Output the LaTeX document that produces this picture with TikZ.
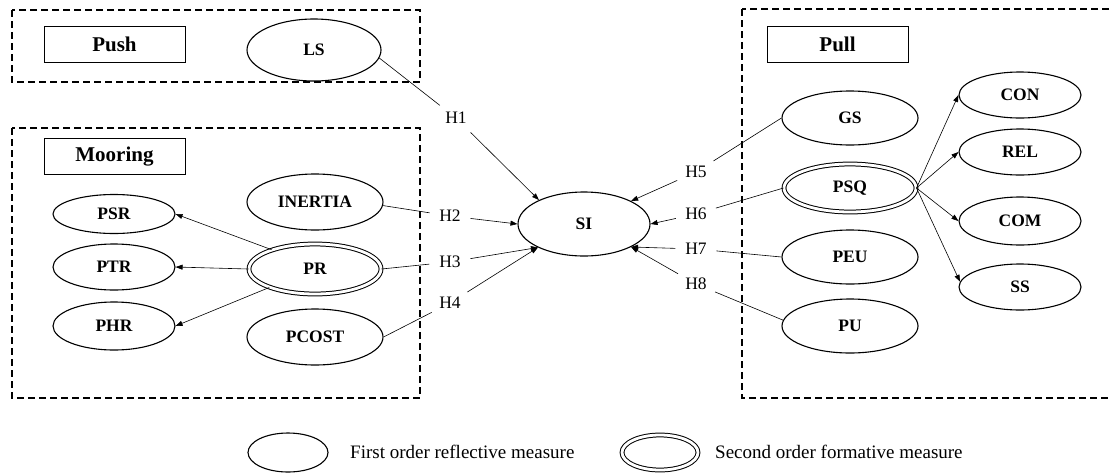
\documentclass[tikz,border=0pt]{standalone}
\usepackage{fontspec}
\setmainfont{Liberation Serif}
\usetikzlibrary{arrows.meta,shapes.geometric}
\begin{document}
\begin{tikzpicture}[x=1pt,y=-1pt,
  esize/.style 2 args={minimum width=#1pt, minimum height=#2pt},
  construct/.style={ellipse, draw, line width=1.1pt, inner sep=0pt,
    font=\fontsize{17.5}{20}\selectfont\bfseries},
  formative/.style={construct, double, double distance=2.8pt, line width=1pt},
  grouplabel/.style={rectangle, draw, line width=0.9pt, minimum width=141pt,
    minimum height=36pt, inner sep=0pt, font=\fontsize{21}{24}\selectfont\bfseries},
  groupframe/.style={draw, line width=1.7pt, dash pattern=on 7pt off 4pt},
  hyp/.style={circle, inner sep=6pt, font=\fontsize{17.5}{20}\selectfont},
  link/.style={line width=0.6pt},
  effect/.style={line width=0.6pt, -{Triangle[length=7pt,width=5pt]}},
  legendtext/.style={anchor=west, inner sep=0pt, font=\fontsize{19}{22}\selectfont}
]
\useasboundingbox (0,0) rectangle (1110,472);

% group frames
\draw[groupframe] (12,10) rectangle (420,82);
\draw[groupframe] (12,128) rectangle (420,398);
\draw[groupframe] (742,9) rectangle (1125,398);

% group labels
\node[grouplabel] (push) at (114.5,44) {Push};
\node[grouplabel] (mooring) at (114.5,156.5) {Mooring};
\node[grouplabel] (pull) at (837.5,44.5) {Pull};

% push
\node[construct, esize={134}{62}] (LS) at (314,50) {LS};

% mooring
\node[construct, esize={136}{56}] (INERTIA) at (315,202) {INERTIA};
\node[formative, esize={132}{50}] (PR) at (315,269) {PR};
\node[construct, esize={136}{56}] (PCOST) at (315,337) {PCOST};
\node[construct, esize={122}{39}] (PSR) at (114,214) {PSR};
\node[construct, esize={122}{46}] (PTR) at (114,267) {PTR};
\node[construct, esize={122}{48}] (PHR) at (114,326) {PHR};

% switching intention
\node[construct, esize={132}{64}] (SI) at (584,224) {SI};

% pull
\node[construct, esize={136}{54}] (GS) at (850,118) {GS};
\node[formative, esize={132}{48}] (PSQ) at (850,188) {PSQ};
\node[construct, esize={136}{54}] (PEU) at (850,257) {PEU};
\node[construct, esize={136}{54}] (PU) at (850,326) {PU};
\node[construct, esize={122}{46}] (CON) at (1020,95) {CON};
\node[construct, esize={122}{46}] (REL) at (1020,152) {REL};
\node[construct, esize={122}{48}] (COM) at (1020,221) {COM};
\node[construct, esize={122}{46}] (SS) at (1020,287) {SS};

% hypothesis labels
\node[hyp] (H1) at (456,118) {H1};
\node[hyp] (H2) at (450,216) {H2};
\node[hyp] (H3) at (450,262) {H3};
\node[hyp] (H4) at (450,303) {H4};
\node[hyp] (H5) at (696,172) {H5};
\node[hyp] (H6) at (696,214) {H6};
\node[hyp] (H7) at (696,249) {H7};
\node[hyp] (H8) at (696,284) {H8};

% hypothesised paths
\draw[link] (LS.-7) -- (H1);
\draw[effect] (H1) -- (SI.152);
\draw[link] (INERTIA.-3) -- (H2);
\draw[effect] (H2) -- (SI.180);
\draw[link] (PR.east) -- (H3);
\draw[effect] (H3) -- (SI.207);
\draw[link] (PCOST.east) -- (H4);
\draw[effect] (H4) -- (SI.207);
\draw[link] (GS.west) -- (H5);
\draw[effect] (H5) -- (SI.26);
\draw[link] (PSQ.west) -- (H6);
\draw[effect] (H6) -- (SI.0);
\draw[link] (PEU.west) -- (H7);
\draw[effect] (H7) -- (SI.-26);
\draw[link] (PU.175) -- (H8);
\draw[effect] (H8) -- (SI.-26);

% second order dimensions
\draw[effect] (PR.156) -- (PSR.east);
\draw[effect] (PR.west) -- (PTR.east);
\draw[effect] (PR.202) -- (PHR.east);
\draw[effect] (PSQ.east) -- (CON.west);
\draw[effect] (PSQ.east) -- (REL.west);
\draw[effect] (PSQ.east) -- (COM.west);
\draw[effect] (PSQ.east) -- (SS.175);

% legend
\node[construct, esize={80}{39}] (legfirst) at (288,452.5) {};
\node[legendtext] (legfirsttext) at (350,452) {First order reflective measure};
\node[formative, esize={76}{35}] (legsecond) at (660,452.5) {};
\node[legendtext] (legsecondtext) at (715,452) {Second order formative measure};
\end{tikzpicture}
\end{document}
